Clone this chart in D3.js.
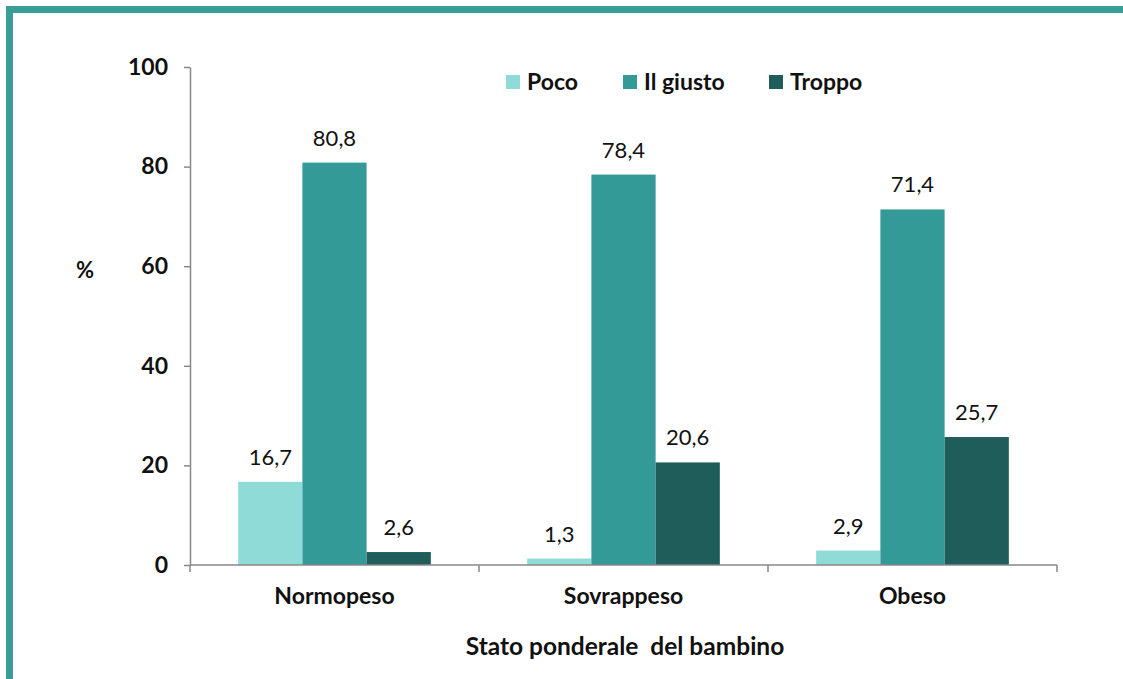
<!DOCTYPE html>
<html>
<head>
<meta charset="utf-8">
<script src="https://cdn.jsdelivr.net/npm/d3@7"></script>
<style>
  body { margin: 0; background: #fff; }
  svg { display: block; font-family: Lato, "Open Sans", sans-serif; }
</style>
</head>
<body>
<div id="chart"></div>
<script>
// categories and series
var categories = ["Normopeso", "Sovrappeso", "Obeso"];
var series = ["Poco", "Il giusto", "Troppo"];
var poco = [16.7, 1.3, 2.9];
var giusto = [80.8, 78.4, 71.4];
var troppo = [2.6, 20.6, 25.7];
var yTicks = [0, 20, 40, 60, 80, 100];
var colors = ["#8fdbd8", "#339a98", "#1f5d5b"];

var values = [poco, giusto, troppo];

var width = 1123, height = 679;
var svg = d3.select("#chart").append("svg")
    .attr("width", width)
    .attr("height", height);

// frame: teal band on top and left
svg.append("rect").attr("x", 6).attr("y", 6).attr("width", width - 6).attr("height", 7).attr("fill", "#3a9e98");
svg.append("rect").attr("x", 6).attr("y", 6).attr("width", 7).attr("height", height - 6).attr("fill", "#3a9e98");

var plotLeft = 190, plotRight = 1057, plotTop = 67, plotBottom = 565;

var y = d3.scaleLinear().domain([0, 100]).range([plotBottom, plotTop]);
var x0 = d3.scaleBand().domain(categories).range([plotLeft, plotRight]).padding(0);
var x1 = d3.scaleBand().domain(series).range([0, x0.bandwidth()])
    .paddingInner(0).paddingOuter(0.75);

// bars
var groups = svg.append("g").selectAll("g")
    .data(categories)
    .join("g")
    .attr("transform", function (d) { return "translate(" + x0(d) + ",0)"; });

groups.selectAll("rect")
    .data(function (c, i) {
        return series.map(function (s, j) { return { s: s, v: values[j][i], j: j }; });
    })
    .join("rect")
    .attr("x", function (d) { return x1(d.s); })
    .attr("y", function (d) { return y(d.v); })
    .attr("width", x1.bandwidth())
    .attr("height", function (d) { return plotBottom - y(d.v); })
    .attr("fill", function (d) { return colors[d.j]; });

groups.selectAll("text")
    .data(function (c, i) {
        return series.map(function (s, j) { return { s: s, v: values[j][i] }; });
    })
    .join("text")
    .attr("x", function (d) { return x1(d.s) + x1.bandwidth() / 2; })
    .attr("y", function (d) { return y(d.v) - 17; })
    .attr("text-anchor", "middle")
    .attr("font-size", 22)
    .attr("fill", "#111")
    .text(function (d) { return d3.format(".1f")(d.v).replace(".", ","); });

// y axis
var yAxis = svg.append("g")
    .attr("transform", "translate(" + plotLeft + ",0)")
    .call(d3.axisLeft(y).tickValues(yTicks).tickSize(6).tickPadding(16).tickSizeOuter(0));
yAxis.select(".domain").attr("stroke", "#888").attr("stroke-width", 1.5);
yAxis.selectAll(".tick line").attr("stroke", "#888").attr("stroke-width", 1.5);
yAxis.selectAll("text")
    .attr("font-family", "Lato, sans-serif")
    .attr("font-size", 23)
    .attr("font-weight", "bold")
    .attr("fill", "#111");

// x axis with ticks at the category boundaries
var xAxis = svg.append("g").attr("transform", "translate(0," + plotBottom + ")");
xAxis.append("line")
    .attr("x1", plotLeft).attr("x2", plotRight)
    .attr("stroke", "#888").attr("stroke-width", 1.5);
xAxis.selectAll(".sep")
    .data(categories.concat(["end"]))
    .join("line")
    .attr("class", "sep")
    .attr("x1", function (d) { return d === "end" ? plotRight : x0(d); })
    .attr("x2", function (d) { return d === "end" ? plotRight : x0(d); })
    .attr("y1", 0).attr("y2", 7)
    .attr("stroke", "#888").attr("stroke-width", 1.5);
xAxis.selectAll(".cat")
    .data(categories)
    .join("text")
    .attr("class", "cat")
    .attr("x", function (d) { return x0(d) + x0.bandwidth() / 2; })
    .attr("y", 39)
    .attr("text-anchor", "middle")
    .attr("font-size", 23)
    .attr("font-weight", "bold")
    .attr("fill", "#111")
    .text(function (d) { return d; });

// axis titles
svg.append("text")
    .attr("x", 85).attr("y", 278)
    .attr("text-anchor", "middle")
    .attr("font-size", 22)
    .attr("font-weight", "bold")
    .attr("fill", "#111")
    .text("%");

svg.append("text")
    .attr("x", 625).attr("y", 655)
    .attr("text-anchor", "middle")
    .attr("font-size", 24.5)
    .attr("font-weight", "bold")
    .attr("fill", "#111")
    .style("white-space", "pre")
    .text("Stato ponderale  del bambino");

// legend
var legendX = [506, 623, 769];
var legend = svg.append("g").selectAll("g")
    .data(series)
    .join("g")
    .attr("transform", function (d, i) { return "translate(" + legendX[i] + ",75)"; });
legend.append("rect")
    .attr("width", 14).attr("height", 14)
    .attr("fill", function (d, i) { return colors[i]; });
legend.append("text")
    .attr("x", 21).attr("y", 15)
    .attr("font-size", 23)
    .attr("font-weight", "bold")
    .attr("fill", "#111")
    .text(function (d) { return d; });
</script>
</body>
</html>
